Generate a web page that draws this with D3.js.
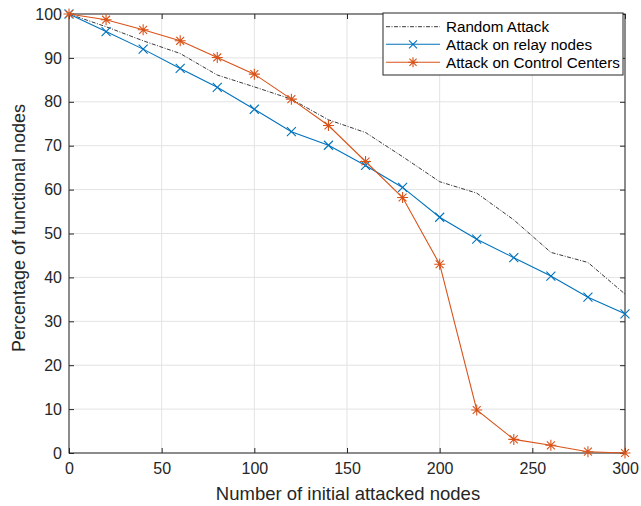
<!DOCTYPE html>
<html>
<head>
<meta charset="utf-8">
<script src="https://cdn.jsdelivr.net/npm/d3@7"></script>
<style>
  body { margin: 0; background: #fff; }
  svg { display: block; font-family: "Liberation Sans", Arial, sans-serif; }
</style>
</head>
<body>
<svg id="chart" width="641" height="506"></svg>
<script>
// Number of initially attacked nodes
const attacked = [0, 20, 40, 60, 80, 100, 120, 140, 160, 180, 200, 220, 240, 260, 280, 300];
// Percentage of functional nodes per attack strategy
const randomAttack = [100, 97.1, 93.9, 91.0, 86.1, 83.4, 80.6, 75.9, 73.0, 67.5, 61.8, 59.2, 53.1, 45.7, 43.4, 36.2];
const relayAttack = [100, 96.0, 92.0, 87.6, 83.3, 78.3, 73.2, 70.1, 65.5, 60.5, 53.7, 48.7, 44.5, 40.3, 35.5, 31.7];
const controlAttack = [100, 98.7, 96.4, 93.9, 90.1, 86.3, 80.6, 74.6, 66.4, 58.2, 43.0, 9.8, 3.1, 1.75, 0.3, 0];

const xTicks = [0, 50, 100, 150, 200, 250, 300];
const yTicks = [0, 10, 20, 30, 40, 50, 60, 70, 80, 90, 100];
const seriesNames = ["Random Attack", "Attack on relay nodes", "Attack on Control Centers"];

const svg = d3.select("#chart");
const plotL = 69, plotR = 625, plotT = 14, plotB = 453;

const x = d3.scaleLinear().domain([0, 300]).range([plotL, plotR]);
const y = d3.scaleLinear().domain([0, 100]).range([plotB, plotT]);

// grid
const grid = svg.append("g");
grid.selectAll(".gx").data(xTicks).join("line")
  .attr("x1", d => x(d)).attr("x2", d => x(d)).attr("y1", plotT).attr("y2", plotB)
  .attr("stroke", "#e3e3e3").attr("stroke-width", 1);
grid.selectAll(".gy").data(yTicks).join("line")
  .attr("x1", plotL).attr("x2", plotR).attr("y1", d => y(d)).attr("y2", d => y(d))
  .attr("stroke", "#e3e3e3").attr("stroke-width", 1);

// axes (ticks inward on all four sides)
const axisColor = "#262626";
function styleAxis(g) {
  g.select(".domain").remove();
  g.selectAll(".tick line").attr("stroke", axisColor);
  g.selectAll(".tick text").attr("fill", axisColor).style("font-size", "16px")
    .style("font-family", "'Liberation Sans', Arial, sans-serif");
}
svg.append("g").attr("transform", `translate(0,${plotB})`)
  .call(d3.axisBottom(x).tickValues(xTicks).tickSize(-5).tickPadding(10))
  .call(styleAxis);
svg.append("g").attr("transform", `translate(0,${plotT})`)
  .call(d3.axisTop(x).tickValues(xTicks).tickSize(-5).tickFormat(""))
  .call(styleAxis);
svg.append("g").attr("transform", `translate(${plotL},0)`)
  .call(d3.axisLeft(y).tickValues(yTicks).tickSize(-5).tickPadding(7))
  .call(styleAxis);
svg.append("g").attr("transform", `translate(${plotR},0)`)
  .call(d3.axisRight(y).tickValues(yTicks).tickSize(-5).tickFormat(""))
  .call(styleAxis);

svg.append("rect").attr("x", plotL).attr("y", plotT)
  .attr("width", plotR - plotL).attr("height", plotB - plotT)
  .attr("fill", "none").attr("stroke", axisColor).attr("stroke-width", 1);

// series
const line = d3.line().x((d, i) => x(attacked[i])).y(d => y(d));

svg.append("path").datum(randomAttack).attr("d", line)
  .attr("fill", "none").attr("stroke", "#222").attr("stroke-width", 0.9)
  .attr("stroke-dasharray", "4,1.5,1,1.5");

const blue = "#0072BD", orange = "#D95319";
svg.append("path").datum(relayAttack).attr("d", line)
  .attr("fill", "none").attr("stroke", blue).attr("stroke-width", 1.1);
svg.append("path").datum(controlAttack).attr("d", line)
  .attr("fill", "none").attr("stroke", orange).attr("stroke-width", 1.1);

function crossPath(cx, cy, r) {
  return `M${cx - r},${cy - r}L${cx + r},${cy + r}M${cx - r},${cy + r}L${cx + r},${cy - r}`;
}
function starPath(cx, cy, r) {
  const d = r * 0.72;
  return `M${cx - r},${cy}L${cx + r},${cy}M${cx},${cy - r}L${cx},${cy + r}` +
         `M${cx - d},${cy - d}L${cx + d},${cy + d}M${cx - d},${cy + d}L${cx + d},${cy - d}`;
}

svg.append("g").selectAll("path").data(relayAttack).join("path")
  .attr("d", (d, i) => crossPath(x(attacked[i]), y(d), 4.5))
  .attr("stroke", blue).attr("stroke-width", 1.1).attr("fill", "none");
svg.append("g").selectAll("path").data(controlAttack).join("path")
  .attr("d", (d, i) => starPath(x(attacked[i]), y(d), 5.5))
  .attr("stroke", orange).attr("stroke-width", 1.1).attr("fill", "none");

// axis labels
svg.append("text").attr("x", 348).attr("y", 500)
  .attr("text-anchor", "middle").attr("fill", axisColor)
  .style("font-size", "18.5px").text("Number of initial attacked nodes");
svg.append("text")
  .attr("transform", `translate(25,228) rotate(-90)`)
  .attr("text-anchor", "middle").attr("fill", axisColor)
  .style("font-size", "18px").text("Percentage of functional nodes");

// legend
const lg = svg.append("g");
lg.append("rect").attr("x", 383).attr("y", 13).attr("width", 240).attr("height", 62)
  .attr("fill", "#fff").attr("stroke", axisColor).attr("stroke-width", 1);
const rows = [26.7, 44.3, 62.3];
const styles = [
  { color: "#222", dash: "4,1.5,1,1.5", marker: null },
  { color: blue, dash: null, marker: crossPath },
  { color: orange, dash: null, marker: starPath }
];
seriesNames.forEach((name, i) => {
  const ry = rows[i];
  lg.append("line").attr("x1", 386).attr("x2", 440).attr("y1", ry).attr("y2", ry)
    .attr("stroke", styles[i].color).attr("stroke-width", i === 0 ? 0.9 : 1.1)
    .attr("stroke-dasharray", styles[i].dash);
  if (styles[i].marker) {
    lg.append("path").attr("d", styles[i].marker(413, ry, i === 1 ? 4 : 5))
      .attr("stroke", styles[i].color).attr("stroke-width", 1.1).attr("fill", "none");
  }
  lg.append("text").attr("x", 446).attr("y", ry + 5.3).attr("fill", "#000")
    .style("font-size", "15.2px").text(name);
});
</script>
</body>
</html>
